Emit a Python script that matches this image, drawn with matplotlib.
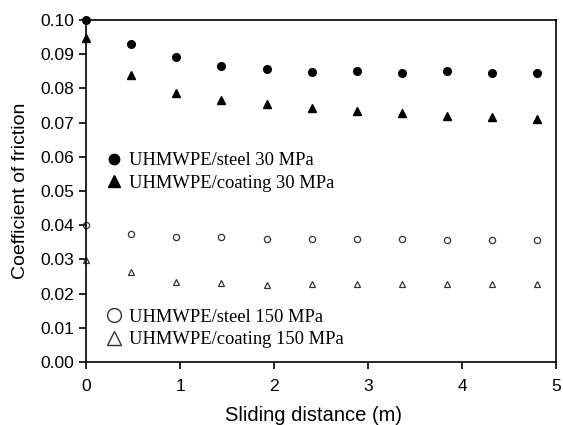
import matplotlib
matplotlib.use('Agg')
import matplotlib.pyplot as plt
from matplotlib.lines import Line2D

distance = [0, 0.48, 0.96, 1.44, 1.92, 2.40, 2.88, 3.36, 3.84, 4.32, 4.80]
steel_30 = [0.100, 0.0931, 0.0892, 0.0866, 0.0858, 0.0849, 0.0850, 0.0846, 0.0850, 0.0846, 0.0846]
coating_30 = [0.0946, 0.0838, 0.0787, 0.0765, 0.0753, 0.0743, 0.0734, 0.0727, 0.0720, 0.0716, 0.0710]
steel_150 = [0.0400, 0.0374, 0.0365, 0.0365, 0.0361, 0.0360, 0.0360, 0.0360, 0.0357, 0.0357, 0.0357]
coating_150 = [0.0298, 0.0264, 0.0235, 0.0231, 0.0226, 0.0227, 0.0227, 0.0227, 0.0227, 0.0227, 0.0227]

labels_30 = ['UHMWPE/steel 30 MPa', 'UHMWPE/coating 30 MPa']
labels_150 = ['UHMWPE/steel 150 MPa', 'UHMWPE/coating 150 MPa']

plt.rcParams['font.family'] = 'Liberation Sans'

fig = plt.figure(figsize=(5.63, 4.25), dpi=100)
ax = fig.add_axes([0.1528, 0.1482, 0.8348, 0.8047])

ax.plot(distance, steel_30, 'o', color='black', ms=5.5, ls='none', clip_on=False)
ax.plot(distance, coating_30, '^', color='black', ms=6, ls='none', clip_on=False)
ax.plot(distance, steel_150, 'o', mfc='none', mec='#333333', mew=0.9, ms=4.5, ls='none', clip_on=False)
ax.plot(distance, coating_150, '^', mfc='none', mec='#333333', mew=0.9, ms=5, ls='none', clip_on=False)

ax.set_xlim(0, 5)
ax.set_ylim(0, 0.10)
ax.set_xticks([0, 1, 2, 3, 4, 5])
ax.set_yticks([i / 100 for i in range(11)])
ax.yaxis.set_major_formatter(matplotlib.ticker.FormatStrFormatter('%.2f'))
ax.tick_params(direction='out', length=5, width=1.2, labelsize=12.5, top=False, right=False)
ax.tick_params(axis='x', pad=7)
for s in ax.spines.values():
    s.set_linewidth(1.2)

ax.set_xlabel('Sliding distance (m)', fontsize=14.5)
ax.xaxis.set_label_coords(0.483, -0.13)
ax.set_ylabel('Coefficient of friction', fontsize=14, labelpad=8)

serif = {'family': 'Liberation Serif', 'size': 13.3}
h30 = [Line2D([], [], marker='o', color='black', ls='none', ms=7.5),
       Line2D([], [], marker='^', color='black', ls='none', ms=8.5)]
leg1 = ax.legend(h30, labels_30, loc='upper left', bbox_to_anchor=(0.02, 0.635),
                 frameon=False, prop=serif, handletextpad=0.2, labelspacing=0.3,
                 handlelength=1.2, borderaxespad=0)
ax.add_artist(leg1)
h150 = [Line2D([], [], marker='o', mfc='none', mec='#333333', ls='none', ms=10),
        Line2D([], [], marker='^', mfc='none', mec='#333333', ls='none', ms=9.5)]
ax.legend(h150, labels_150, loc='upper left', bbox_to_anchor=(0.02, 0.178),
          frameon=False, prop=serif, handletextpad=0.2, labelspacing=0.3,
          handlelength=1.2, borderaxespad=0)

fig.savefig('out.png', dpi=100)
